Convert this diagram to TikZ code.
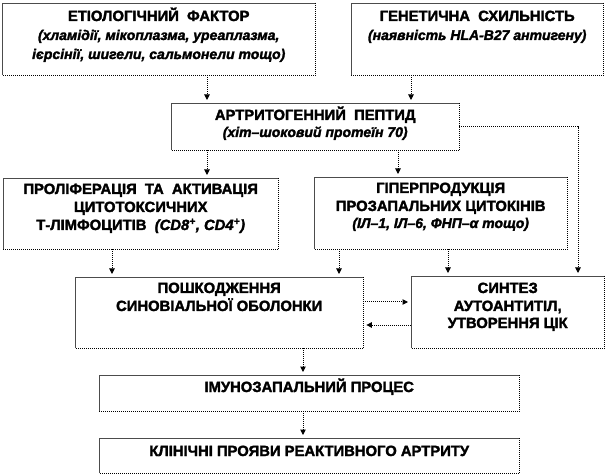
\documentclass[tikz,border=0pt]{standalone}
\usepackage{fontspec}
\setmainfont{Liberation Sans}[BoldFeatures={FakeBold=2},BoldItalicFeatures={FakeBold=2}]
\usetikzlibrary{arrows.meta}
\begin{document}
\begin{tikzpicture}[x=1pt,y=-1pt,
  bx/.style={rectangle, inner sep=0pt, anchor=north west},
  tl/.style={line width=0.6pt, draw=black!70},
  br/.style={line width=1pt, densely dotted},
  captxt/.style={anchor=base, inner sep=0pt, font=\fontsize{14.8}{18}\selectfont\bfseries},
  itatxt/.style={anchor=base, inner sep=0pt, font=\fontsize{14}{18}\selectfont\bfseries\itshape},
  arr/.style={densely dotted, line width=1pt, -{Triangle[width=5.5pt,length=5.5pt]}, shorten >=3pt}
]
\useasboundingbox (0,0) rectangle (606,476);
\fill[white] (0,0) rectangle (606,476);

% boxes
\node[bx, minimum width=313pt, minimum height=72pt] (b1) at (2,3) {};
\node[bx, minimum width=252pt, minimum height=72pt] (b2) at (351,3) {};
\node[bx, minimum width=288pt, minimum height=47pt] (b3) at (171,103) {};
\node[bx, minimum width=275pt, minimum height=71pt] (b4) at (3,178) {};
\node[bx, minimum width=253pt, minimum height=72pt] (b5) at (314,177) {};
\node[bx, minimum width=288pt, minimum height=71pt] (b6) at (75,277) {};
\node[bx, minimum width=193pt, minimum height=72pt] (b7) at (411,276) {};
\node[bx, minimum width=420pt, minimum height=36pt] (b8) at (99,375) {};
\node[bx, minimum width=420pt, minimum height=35pt] (b9) at (99,438) {};

\foreach \b in {b1,b2,b3,b4,b5,b6,b7,b8,b9} {
  \draw[tl] (\b.south west) -- (\b.north west) -- (\b.north east);
  \draw[br] (\b.north east) -- (\b.south east) -- (\b.south west);
}

% texts
\node[captxt] (t1a) at ([yshift=-18pt]b1.north) {ЕТІОЛОГІЧНИЙ\ \ ФАКТОР};
\node[itatxt] (t1b) at ([yshift=-37pt]b1.north) {(хламідії, мікоплазма, уреаплазма,};
\node[itatxt] (t1c) at ([yshift=-56pt]b1.north) {ієрсінії, шигели, сальмонели тощо)};

\node[captxt] (t2a) at ([yshift=-18pt]b2.north) {ГЕНЕТИЧНА\ \ СХИЛЬНІСТЬ};
\node[itatxt] (t2b) at ([yshift=-37pt]b2.north) {(наявність HLA-B27 антигену)};

\node[captxt] (t3a) at ([yshift=-17pt]b3.north) {АРТРИТОГЕННИЙ\ \ ПЕПТИД};
\node[itatxt] (t3b) at ([yshift=-34pt]b3.north) {(хіт–шоковий протеїн 70)};

\node[captxt] (t4a) at ([yshift=-16pt]b4.north) {ПРОЛІФЕРАЦІЯ\ \ ТА\ \ АКТИВАЦІЯ};
\node[captxt] (t4b) at ([yshift=-34pt]b4.north) {ЦИТОТОКСИЧНИХ};
\node[captxt] (t4c) at ([yshift=-52pt]b4.north) {Т-ЛІМФОЦИТІВ\ \ \textit{(CD8\textsuperscript{+}, CD4\textsuperscript{+})}};

\node[captxt] (t5a) at ([yshift=-16pt]b5.north) {ГІПЕРПРОДУКЦІЯ};
\node[captxt] (t5b) at ([yshift=-34pt]b5.north) {ПРОЗАПАЛЬНИХ ЦИТОКІНІВ};
\node[itatxt] (t5c) at ([yshift=-51pt]b5.north) {(ІЛ–1,\ ІЛ–6,\ ФНП–α тощо)};

\node[captxt] (t6a) at ([yshift=-16pt]b6.north) {ПОШКОДЖЕННЯ};
\node[captxt] (t6b) at ([yshift=-34pt]b6.north) {СИНОВІАЛЬНОЇ ОБОЛОНКИ};

\node[captxt] (t7a) at ([yshift=-17pt]b7.north) {СИНТЕЗ};
\node[captxt] (t7b) at ([yshift=-35pt]b7.north) {АУТОАНТИТІЛ,};
\node[captxt] (t7c) at ([yshift=-52pt]b7.north) {УТВОРЕННЯ ЦІК};

\node[captxt] (t8) at ([yshift=-17pt]b8.north) {ІМУНОЗАПАЛЬНИЙ ПРОЦЕС};
\node[captxt] (t9) at ([yshift=-18pt]b9.north) {КЛІНІЧНІ ПРОЯВИ РЕАКТИВНОГО АРТРИТУ};

% connector guides
\coordinate (xa) at (207,0);
\coordinate (xb) at (411,0);
\coordinate (xc) at (398,0);
\coordinate (xd) at (112,0);
\coordinate (xe) at (339,0);
\coordinate (xf) at (448,0);
\coordinate (xg) at (303,0);
\coordinate (xr) at (578,0);
\coordinate (ya) at (0,302);
\coordinate (yb) at (0,325);

\draw[arr] (b1.south -| xa) -- (b3.north -| xa);
\draw[arr] (b2.south -| xb) -- (b3.north -| xb);
\draw[arr] (b3.south -| xa) -- (b4.north -| xa);
\draw[arr] (b3.south -| xc) -- (b5.north -| xc);
\draw[arr] (b3.east) -| (b7.north -| xr);
\draw[arr] (b4.south -| xd) -- (b6.north -| xd);
\draw[arr] (b5.south -| xe) -- (b6.north -| xe);
\draw[arr] (b5.south -| xf) -- (b7.north -| xf);
\draw[arr] (b6.east |- ya) -- (b7.west |- ya);
\draw[arr] (b7.west |- yb) -- (b6.east |- yb);
\draw[arr] (b6.south -| xg) -- (b8.north -| xg);
\draw[arr] (b8.south -| xg) -- (b9.north -| xg);
\end{tikzpicture}
\end{document}
